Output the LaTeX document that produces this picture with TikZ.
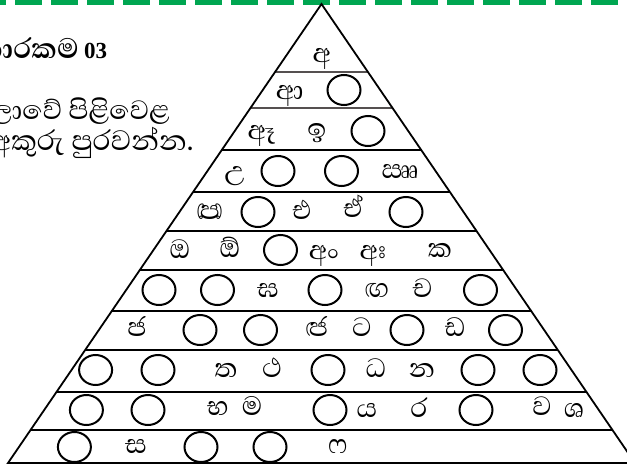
\documentclass[tikz,border=0pt]{standalone}
\usepackage{fontspec}
\newfontfamily\sinhalafont[Script=Sinhala]{Abhaya Libre}
\newfontfamily\latinserif{Liberation Serif}
\usetikzlibrary{shapes.geometric,calc}
\definecolor{dashgreen}{RGB}{0,166,81}
\definecolor{rowgray}{RGB}{85,80,80}
\begin{document}
\begin{tikzpicture}[x=1pt,y=-1pt,
  slot/.style={ellipse,draw,line width=2pt,minimum width=33pt,minimum height=30pt,inner sep=0pt},
  letter/.style={font=\sinhalafont\fontsize{34}{34}\selectfont,inner sep=0pt,text height=15pt,text depth=0pt},
  para/.style={anchor=base east,inner sep=0pt,font=\sinhalafont\fontsize{36}{40}\selectfont},
  edgeline/.style={line width=1.8pt,line join=miter},
  rowline/.style={line width=1.8pt}]
\clip (0,0) rectangle (627,466);
% green dashed border
\coordinate (gl) at (-21,2.3);
\coordinate (gr) at (660,2.3);
\draw[dashgreen,line width=4.6pt,dash pattern=on 27pt off 9pt] (gl) -- (gr);
% left text
\node[para,font=\sinhalafont\bfseries\fontsize{36}{40}\selectfont] (title) at (79,58) {කාරකම};
\node[anchor=base west,inner sep=0pt,font=\latinserif\bfseries\fontsize{23}{26}\selectfont] (titlenum) at (84,58) {03};
\node[para,font=\sinhalafont\fontsize{34}{40}\selectfont] (lineone) at (170,119) {මාලාවේ පිළිවෙළ};
\node[para] (linetwo) at (194,150) {අකුරු පුරවන්න.};
% pyramid
\coordinate (A) at (321.5,4);
\coordinate (BL) at (8,463);
\coordinate (BR) at (635,463);
\foreach \yy/\cc in {72/rowgray,108/rowgray,150/black,192/black,231/black,270/black,311/black,350/black,392/black,430/black}{
  \pgfmathsetmacro\ff{(\yy-4)/459}
  \draw[rowline,\cc] ($(A)!\ff!(BL)$) -- ($(A)!\ff!(BR)$);
}
\draw[edgeline] (BL) -- (A) -- (BR) -- cycle;
% row 1
\node[letter] (r1a) at (322,55) {අ};
% row 2
\node[letter] (r2a) at (290,92) {ආ};
\node[slot] (c2a) at (344,90) {};
% row 3
\node[letter] (r3a) at (262,132) {ඈ};
\node[letter] (r3b) at (317,130) {ඉ};
\node[slot] (c3a) at (368,131) {};
% row 4
\node[letter] (r4a) at (235,173) {උ};
\node[slot] (c4a) at (278,171) {};
\node[slot] (c4b) at (341.5,171) {};
\node[letter] (r4b) at (400,171) {ඎ};
% row 5
\node[letter] (r5a) at (210,212) {ඏ};
\node[slot] (c5a) at (258,212) {};
\node[letter] (r5b) at (302,212) {එ};
\node[letter] (r5c) at (353,210) {ඒ};
\node[slot] (c5b) at (406,212) {};
% row 6
\node[letter] (r6a) at (180,251) {ඔ};
\node[letter] (r6b) at (230,250) {ඕ};
\node[slot] (c6a) at (280.5,250) {};
\node[letter] (r6c) at (324,252) {අං};
\node[letter] (r6d) at (373,252) {අඃ};
\node[letter] (r6e) at (440,250) {ක};
% row 7
\node[slot] (c7a) at (159,290) {};
\node[slot] (c7b) at (217.5,290) {};
\node[letter] (r7a) at (268,290) {ඝ};
\node[slot] (c7c) at (325,290) {};
\node[letter] (r7b) at (377,290) {ඟ};
\node[letter] (r7c) at (422,290) {ච};
\node[slot] (c7d) at (480.5,290) {};
% row 8
\node[letter] (r8a) at (137,329) {ජ};
\node[slot] (c8a) at (200,330) {};
\node[slot] (c8b) at (260.5,330) {};
\node[letter] (r8b) at (317,329) {ඦ};
\node[letter] (r8c) at (362,329) {ට};
\node[slot] (c8c) at (407,330) {};
\node[letter] (r8d) at (455,329) {ඩ};
\node[slot] (c8d) at (505.5,330) {};
% row 9
\node[slot] (c9a) at (95.6,370) {};
\node[slot] (c9b) at (158,370) {};
\node[letter] (r9a) at (226,370) {ත};
\node[letter] (r9b) at (272,370) {ථ};
\node[slot] (c9c) at (328,370) {};
\node[letter] (r9c) at (376,370) {ධ};
\node[letter] (r9d) at (422,370) {න};
\node[slot] (c9d) at (478,370) {};
\node[slot] (c9e) at (540,370) {};
% row 10
\node[slot] (c10a) at (86.4,410) {};
\node[slot] (c10b) at (148,410) {};
\node[letter] (r10a) at (218,408) {භ};
\node[letter] (r10b) at (252,408) {ම};
\node[slot] (c10c) at (330,410) {};
\node[letter] (r10c) at (367,410) {ය};
\node[letter] (r10d) at (419,410) {ර};
\node[slot] (c10d) at (476,410) {};
\node[letter] (r10e) at (542,408) {ව};
\node[letter] (r10f) at (574,410) {ශ};
% row 11
\node[slot] (c11a) at (74.4,447) {};
\node[letter] (r11a) at (136,446) {ස};
\node[slot] (c11b) at (201,447) {};
\node[slot] (c11c) at (270,447) {};
\node[letter] (r11b) at (338,446) {ෆ};
\end{tikzpicture}
\end{document}
